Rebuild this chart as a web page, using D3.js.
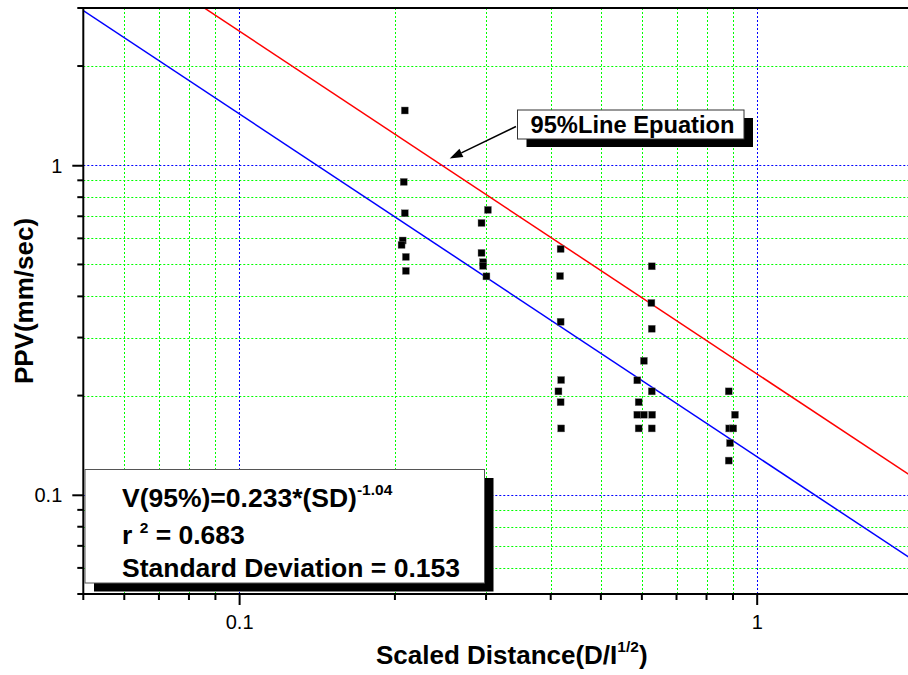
<!DOCTYPE html>
<html>
<head>
<meta charset="utf-8">
<script src="https://cdn.jsdelivr.net/npm/d3@7"></script>
<style>
  body { margin: 0; background: #fff; }
  svg { display: block; font-family: "Liberation Sans", Arial, sans-serif; }
  text { white-space: pre; }
</style>
</head>
<body>
<div id="chart"></div>
<script>
// measured points: scaled distance vs peak particle velocity
const sdValues = [
  0.209, 0.208, 0.209, 0.207, 0.206, 0.210, 0.210,
  0.3025, 0.294, 0.294, 0.296, 0.296, 0.3005,
  0.418, 0.417, 0.418, 0.419, 0.414, 0.418, 0.419,
  0.627, 0.626, 0.627, 0.6055, 0.588, 0.627, 0.5915, 0.588, 0.6055, 0.628, 0.5915, 0.627,
  0.883, 0.908, 0.885, 0.901, 0.888, 0.883
];
const ppvValues = [
  1.466, 0.890, 0.715, 0.591, 0.573, 0.527, 0.478,
  0.732, 0.668, 0.542, 0.508, 0.495, 0.460,
  0.557, 0.461, 0.335, 0.223, 0.206, 0.191, 0.159,
  0.4935, 0.382, 0.319, 0.255, 0.2225, 0.206, 0.191, 0.175, 0.175, 0.175, 0.159, 0.159,
  0.206, 0.175, 0.159, 0.159, 0.1435, 0.127
];

// fitted lines V = a * SD^b  (blue = regression, red = 95% line)
const fitCoef = [0.1307, 0.233];
const fitExp = [-1.04, -1.04];
const fitColors = ["#0000ff", "#ff0000"];

const xDomain = [0.05, 2];
const yDomain = [0.05, 3];
const xMajorTicks = [0.1, 1];
const xMinorTicks = [0.05, 0.06, 0.07, 0.08, 0.09, 0.2, 0.3, 0.4, 0.5, 0.6, 0.7, 0.8, 0.9, 2];
const yMajorTicks = [0.1, 1];
const yMinorTicks = [0.05, 0.06, 0.07, 0.08, 0.09, 0.2, 0.3, 0.4, 0.5, 0.6, 0.7, 0.8, 0.9, 2, 3];
const xTickLabels = ["0.1", "1"];
const yTickLabels = ["0.1", "1"];

// annotation arrow (data coords)
const arrowFrom = [0.3427, 1.311];
const arrowTo = [0.2552, 1.048];

const width = 908, height = 675;
const pl = 83.3, pr = 912.5, pt = 8, pb = 594;

const svg = d3.select("#chart").append("svg")
  .attr("width", width).attr("height", height);

const x = d3.scaleLog().domain(xDomain).range([pl, pr]);
const y = d3.scaleLog().domain(yDomain).range([pb, pt]);

svg.append("defs").append("clipPath").attr("id", "plot")
  .append("rect").attr("x", pl).attr("y", pt)
  .attr("width", pr - pl).attr("height", pb - pt);

// grid
const grid = svg.append("g").attr("fill", "none").attr("stroke-width", 1).attr("stroke-dasharray", "2,2");
grid.selectAll(".gx").data(xMinorTicks.filter(d => d > xDomain[0] && d < xDomain[1]))
  .enter().append("line")
  .attr("x1", d => Math.round(x(d)) + 0.5).attr("x2", d => Math.round(x(d)) + 0.5)
  .attr("y1", pt).attr("y2", pb).attr("stroke", "#00ff00");
grid.selectAll(".gy").data(yMinorTicks.filter(d => d > yDomain[0] && d < yDomain[1]))
  .enter().append("line")
  .attr("y1", d => Math.round(y(d)) + 0.5).attr("y2", d => Math.round(y(d)) + 0.5)
  .attr("x1", pl).attr("x2", pr).attr("stroke", "#00ff00");
grid.selectAll(".mx").data(xMajorTicks)
  .enter().append("line")
  .attr("x1", d => Math.round(x(d)) + 0.5).attr("x2", d => Math.round(x(d)) + 0.5)
  .attr("y1", pt).attr("y2", pb).attr("stroke", "#0000ff");
grid.selectAll(".my").data(yMajorTicks)
  .enter().append("line")
  .attr("y1", d => Math.round(y(d)) + 0.5).attr("y2", d => Math.round(y(d)) + 0.5)
  .attr("x1", pl).attr("x2", pr).attr("stroke", "#0000ff");

// fit lines
const line = d3.line().x(d => x(d[0])).y(d => y(d[1]));
const fitG = svg.append("g").attr("clip-path", "url(#plot)");
fitCoef.forEach((a, i) => {
  const pts = xDomain.map(s => [s, a * Math.pow(s, fitExp[i])]);
  fitG.append("path").attr("d", line(pts))
    .attr("fill", "none").attr("stroke", fitColors[i]).attr("stroke-width", 1.5);
});

// points
const pts = sdValues.map((s, i) => [s, ppvValues[i]]);
svg.append("g").selectAll("rect").data(pts).enter().append("rect")
  .attr("x", d => x(d[0]) - 3.5).attr("y", d => y(d[1]) - 3.5)
  .attr("width", 7).attr("height", 7)
  .attr("fill", "#000").attr("stroke", "#777").attr("stroke-width", 0.4);

// axes
const xAxis = svg.append("g").attr("transform", `translate(0,${pb})`)
  .call(d3.axisBottom(x).tickValues(xMajorTicks).tickSize(11).tickFormat((d, i) => xTickLabels[i]));
xAxis.append("g").selectAll("line").data(xMinorTicks).enter().append("line")
  .attr("x1", d => x(d)).attr("x2", d => x(d)).attr("y1", 0).attr("y2", 6)
  .attr("stroke", "#000").attr("stroke-width", 2);
const yAxis = svg.append("g").attr("transform", `translate(${pl},0)`)
  .call(d3.axisLeft(y).tickValues(yMajorTicks).tickSize(11).tickFormat((d, i) => yTickLabels[i]));
yAxis.append("g").selectAll("line").data(yMinorTicks).enter().append("line")
  .attr("x1", 0).attr("x2", -6).attr("y1", d => y(d)).attr("y2", d => y(d))
  .attr("stroke", "#000").attr("stroke-width", 2);
[xAxis, yAxis].forEach(ax => {
  ax.select(".domain").remove();
  ax.selectAll(".tick line").attr("stroke-width", 2);
  ax.selectAll(".tick text").attr("font-size", 20).attr("font-family", "Liberation Sans, Arial, sans-serif").attr("fill", "#000");
});
xAxis.selectAll(".tick text").attr("dy", null).attr("y", 35);
yAxis.selectAll(".tick text").attr("x", -21).attr("dy", "0.35em");

// frame
svg.append("line").attr("x1", pl - 1).attr("x2", pr).attr("y1", pb).attr("y2", pb).attr("stroke", "#000").attr("stroke-width", 2);
svg.append("line").attr("x1", pl).attr("x2", pl).attr("y1", pt - 1).attr("y2", pb + 1).attr("stroke", "#000").attr("stroke-width", 2);
svg.append("line").attr("x1", pl - 1).attr("x2", pr).attr("y1", pt).attr("y2", pt).attr("stroke", "#000").attr("stroke-width", 2);

// axis titles
const xt = svg.append("text").attr("x", 376).attr("y", 664)
  .attr("font-size", 26).attr("font-weight", "bold").attr("fill", "#000");
xt.append("tspan").text("Scaled Distance(D/I");
xt.append("tspan").attr("font-size", 15.5).attr("dy", -12).text("1/2");
xt.append("tspan").attr("dy", 12).text(")");

svg.append("text").attr("transform", `translate(33,${(pt + pb) / 2}) rotate(-90)`)
  .attr("text-anchor", "middle").attr("font-size", 26).attr("font-weight", "bold")
  .attr("fill", "#000").text("PPV(mm/sec)");

// callout arrow
const ax0 = x(arrowFrom[0]), ay0 = y(arrowFrom[1]);
const ax1 = x(arrowTo[0]), ay1 = y(arrowTo[1]);
const ang = Math.atan2(ay1 - ay0, ax1 - ax0);
const hl = 13, hw = 4.5;
const bx = ax1 - hl * Math.cos(ang), by = ay1 - hl * Math.sin(ang);
svg.append("line").attr("x1", ax0).attr("y1", ay0).attr("x2", bx).attr("y2", by)
  .attr("stroke", "#000").attr("stroke-width", 1.5);
svg.append("path")
  .attr("d", `M${ax1},${ay1}L${bx - hw * Math.sin(ang)},${by + hw * Math.cos(ang)}L${bx + hw * Math.sin(ang)},${by - hw * Math.cos(ang)}Z`)
  .attr("fill", "#000");

// callout box
svg.append("rect").attr("x", 526.5).attr("y", 118).attr("width", 226.5).attr("height", 29).attr("fill", "#000");
svg.append("rect").attr("x", 517.5).attr("y", 110).attr("width", 226.5).attr("height", 29)
  .attr("fill", "#fff").attr("stroke", "#333").attr("stroke-width", 1);
svg.append("text").attr("x", 530.5).attr("y", 133).attr("font-size", 23.7).attr("font-weight", "bold")
  .attr("fill", "#000").text("95%Line Epuation");

// equation box
svg.append("rect").attr("x", 94).attr("y", 478).attr("width", 399.5).attr("height", 113.5).attr("fill", "#000");
svg.append("rect").attr("x", 85).attr("y", 469.5).attr("width", 399.5).attr("height", 113.5)
  .attr("fill", "#fff").attr("stroke", "#555").attr("stroke-width", 1);
const eq = svg.append("g").attr("font-size", 26.5).attr("font-weight", "bold").attr("fill", "#000");
const l1 = eq.append("text").attr("x", 122).attr("y", 507);
l1.append("tspan").text("V(95%)=0.233*(SD)");
l1.append("tspan").attr("font-size", 15.5).attr("dy", -12).text("-1.04");
const l2 = eq.append("text").attr("x", 122).attr("y", 544);
l2.append("tspan").text("r ");
l2.append("tspan").attr("font-size", 15.5).attr("dy", -11).text("2");
l2.append("tspan").attr("dy", 11).text(" = 0.683");
eq.append("text").attr("x", 122).attr("y", 577).text("Standard Deviation = 0.153");
</script>
</body>
</html>
